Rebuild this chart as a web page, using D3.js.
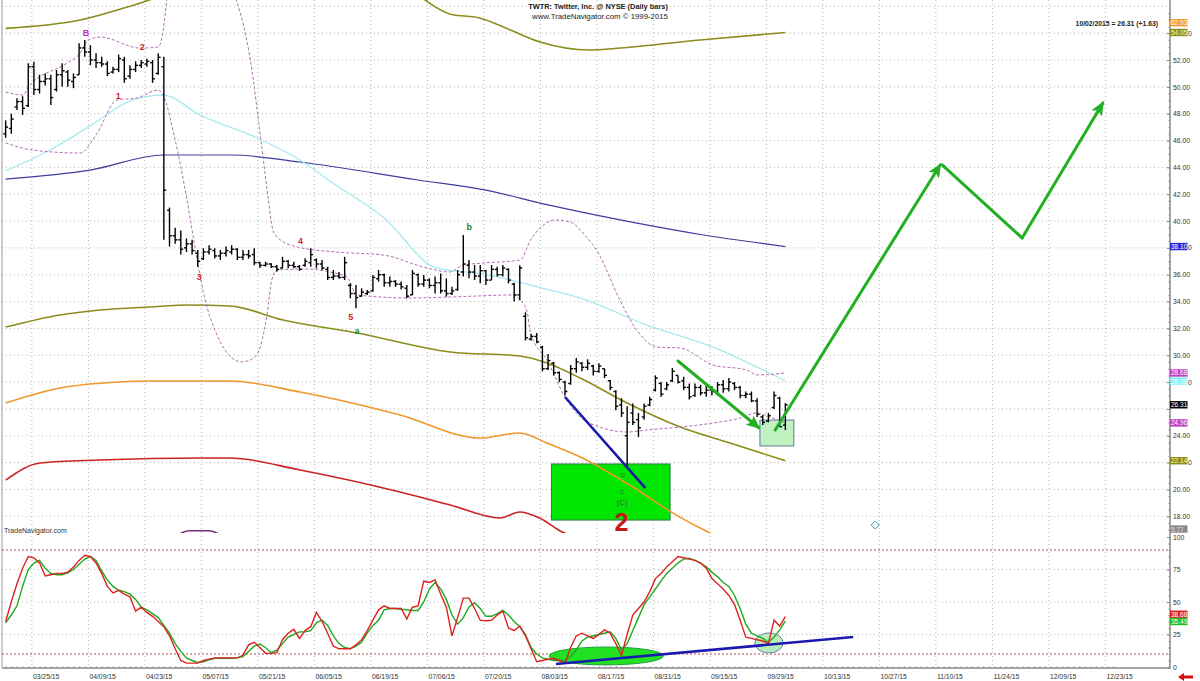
<!DOCTYPE html>
<html><head><meta charset="utf-8">
<script src="https://cdn.jsdelivr.net/npm/d3@7"></script>
<style>body{margin:0;background:#fff}svg{display:block}text{font-family:"Liberation Sans",Arial,sans-serif}</style>
</head><body><svg id="c" width="1200" height="681"></svg>
<script>
// ---------- DATA ----------
const firstBar = -5; // trading-day index of first bar (0 = 03/25/15)
const barHigh = [47.5,48.0,49.15,49.3,51.75,
51.87,50.9,51.0,50.9,51.25,51.75,51.25,51.0,53.24,53.49,
53.1,52.5,52.25,51.9,51.5,52.4,52.25,51.6,51.9,52.0,
52.1,52.0,52.5,52.25,41.0,39.5,39.3,38.7,38.6,37.85,
37.97,38.2,37.97,37.85,38.1,38.2,37.97,37.85,37.85,37.97,
36.97,36.97,36.85,36.72,37.34,37.1,36.97,36.72,37.22,37.97,
37.22,37.1,36.6,36.35,36.2,37.34,35.36,35.24,34.99,34.86,
35.98,36.35,36.1,35.86,35.6,35.5,35.24,36.35,36.1,35.98,
35.73,35.86,36.1,35.73,35.11,36.35,38.96,37.1,36.72,36.72,
36.35,36.72,36.6,36.72,36.47,35.4,36.7,33.2,31.6,31.65,
30.7,30.1,29.5,28.8,28.1,29.27,29.8,29.5,29.7,29.3,
29.4,29.0,28.15,27.4,26.8,26.2,26.4,25.7,26.4,26.9,
28.5,28.0,28.0,29.05,28.5,28.4,27.9,27.9,27.8,27.7,
27.7,28.0,28.15,28.3,28.0,27.7,27.3,27.3,26.8,25.55,
25.7,27.3,26.9,26.44];
const barLow = [46.2,46.5,48.27,47.9,48.5,
49.4,49.5,50.1,48.65,49.65,50.0,50.0,49.9,50.9,52.25,
51.6,51.4,51.5,50.8,51.0,51.1,50.3,50.6,51.1,51.4,
51.5,50.3,50.9,38.6,38.1,38.3,37.5,37.7,37.5,36.6,
37.1,37.5,37.2,37.1,37.35,37.5,37.1,37.1,37.2,36.7,
36.5,36.6,36.5,36.23,36.48,36.48,36.48,36.3,36.6,36.6,
36.48,36.35,35.6,35.6,35.7,35.6,34.24,33.5,34.37,34.49,
34.74,35.48,35.1,35.11,35.1,34.9,34.24,34.49,35.11,35.11,
34.99,34.61,34.6,34.36,34.49,34.8,35.86,35.73,35.61,35.36,
35.24,35.61,35.86,35.86,35.36,34.0,34.1,31.1,31.1,30.9,
28.8,28.9,28.5,28.0,27.0,27.8,28.7,28.8,28.9,28.5,
28.7,28.3,27.4,25.9,25.4,21.6,24.8,23.9,25.2,26.2,
27.3,26.9,27.4,28.0,27.9,27.4,26.7,26.9,27.0,26.9,
27.0,27.0,27.2,27.3,27.4,26.8,26.8,26.5,25.4,24.8,
25.0,26.0,24.68,24.43];
const barOpen = [46.5,46.9,48.5,48.9,48.6,
51.5,49.8,50.4,50.6,49.8,50.9,51.1,50.4,50.9,52.9,
52.6,52.0,51.8,51.7,51.1,51.3,52.0,50.8,51.3,51.6,
51.7,51.8,51.0,51.5,40.8,38.9,38.6,38.0,38.3,37.6,
37.2,37.7,37.8,37.4,37.6,37.7,37.9,37.3,37.5,37.5,
36.9,36.7,36.8,36.6,36.5,37.0,36.7,36.6,36.7,36.9,
37.1,36.8,36.4,35.8,35.9,35.8,35.2,34.6,34.4,34.6,
34.8,35.7,36.0,35.4,35.5,35.3,35.0,34.5,36.0,35.3,
35.6,35.2,35.4,34.8,34.6,34.9,36.2,36.7,36.2,35.9,
36.3,35.6,36.4,36.0,36.4,35.3,34.5,32.9,31.2,31.4,
30.6,29.0,29.4,28.7,28.0,27.9,29.0,29.4,29.1,29.2,
28.8,29.0,28.1,27.3,26.3,24.0,25.7,25.2,25.4,26.3,
27.4,27.9,27.5,28.1,28.5,28.1,27.6,27.0,27.6,27.2,
27.4,27.3,27.8,27.5,27.9,27.6,27.0,27.1,26.6,25.4,
25.1,26.1,26.8,24.8];
const barClose = [47.0,47.6,48.9,48.4,51.5,
49.8,50.4,50.6,49.2,50.9,51.2,50.5,50.7,52.9,52.6,
52.0,51.8,51.7,51.0,51.3,52.1,50.6,51.3,51.6,51.8,
51.9,50.6,52.2,42.3,38.9,38.6,37.9,38.3,37.8,37.0,
37.7,37.9,37.4,37.6,37.8,37.9,37.3,37.5,37.4,36.9,
36.7,36.8,36.6,36.4,37.0,36.7,36.6,36.4,37.0,37.5,
36.8,36.5,35.8,35.9,35.8,36.9,34.6,34.3,34.7,34.7,
35.8,36.0,35.4,35.5,35.3,35.1,34.4,36.1,35.3,35.6,
35.2,35.4,34.8,34.6,34.8,36.0,36.8,36.2,35.9,36.3,
35.6,36.4,36.0,36.5,35.6,34.5,36.5,31.3,31.4,31.0,
29.0,29.6,28.7,28.2,27.3,29.0,29.5,29.1,29.4,28.8,
29.2,28.5,27.6,26.2,25.7,25.0,25.0,24.6,26.2,26.7,
28.3,27.1,27.8,28.8,28.0,27.6,26.9,27.6,27.2,27.4,
27.3,27.8,27.5,28.0,27.6,27.0,27.1,26.6,25.6,25.0,
25.5,27.0,24.68,26.31];
const oscFast = [35,50,64,76,85,
84,80,70,71,72,72,73,77,82,86,
85,80,72,62,57,59,56,54,43,46,
42,39,35,31,24,14,5,3,3,3,
5,6,7,7,7,7,7,9,17,19,
15,10.5,10.5,11,21,26,29,22,28,31,
42,35,26,16,14,14,14,17,21,28,
36,44,47,45,45,45,37,46,47,66,
65,67,56,46,24,38,53,53,45,36,
35.6,36,40,43,30,28,31.5,24,14,4,
5,6,6.7,5,3,15,24,26,24,22,
25,28.5,26,18,9,25,40,45,50,58,
68,72,77,81,85,84,83,82,80,76,
68,64,60,55,48,36,23,22,21,20,
18,36,31.5,38.7];
const oscSlow = [34,40,47,62,75,
80,82,76,72,71,71,72.5,75,79,83,
85,82,74,67,62,59,58,56,52,46,
44,41,38,32,26,18,12,7,5,3.5,
4,5.5,6.7,6.7,6.7,6.7,7,8,12,16,
17.7,15,11,13,18,23,25,27,27,28,
34,36,32,24,18,15,14,16,19,26,
32,36,44,45,45,44.4,44,43.5,43.5,50,
60,65,60,52,40,33,38,46,49.5,45,
39,39,41,43.5,40,35,31,25,15,10,
7,6,5,5,5,8,13,20,23,24,
25,26,27,22,13,18,28,38,48,54,
60,66,72,76,80,83,83.6,82,80,77,
73,69.5,65,62,55,45,33,26,24,22,
19,23,28.5,35.49];

const tickIndex = [0,10,20,30,40,50,60,70,80,90,100,110,120,130,140,150,160,170,180,190];
const tickLabels = ["03/25/15","04/09/15","04/23/15","05/07/15","05/21/15","06/05/15","06/19/15","07/06/15","07/20/15","08/03/15","08/17/15","08/31/15","09/15/15","09/29/15","10/13/15","10/27/15","11/10/15","11/24/15","12/09/15","12/23/15"];
const priceTicks = [18,20,22,24,26,28,30,32,34,36,38,40,42,44,46,48,50,52,54];
const oscTicks = [0,25,50,75,100];

// overlay studies, [bar index, price]
const maLong = [[-5,43.13],[10,43.8],[23,44.92],[35,44.92],[47,44.4],[68,43.06],[80,42.3],[91,41.2],[100,40.4],[118,39.0],[133,38.1]];
const maMid = [[-5,43.73],[2.85,45.29],[9.6,47.0],[17.5,49.02],[22.9,49.39],[29.4,47.9],[39.5,46.19],[47.1,44.55],[52.9,42.83],[61.8,40.3],[71.3,36.5],[79.5,36.05],[91.3,34.86],[96.6,34.27],[108.5,32.25],[120.2,30.61],[133,28.08]];
const envUpper = [[-5,54.36],[8.2,54.98],[17,56.0],[30,57.8],[47,58.7],[65,57.5],[73.6,55.43],[78.9,55.13],[84.3,54.24],[89.6,53.34],[98.4,52.75],[103.8,52.89],[117.9,53.49],[133,54.05]];
const envLower = [[-5,32.1],[4.6,33.0],[11.7,33.37],[20.5,33.6],[27.6,33.74],[34.7,33.67],[44.1,32.63],[57.2,31.66],[73.7,30.24],[86,29.94],[90.8,29.42],[96.7,28.3],[105,26.44],[114.4,24.65],[123.2,23.46],[133,22.14]];
const bandOrange = [[-5,26.44],[4.6,27.56],[15.2,28.01],[20.6,28.08],[34.7,28.08],[47.1,27.26],[64.8,25.55],[79,23.83],[86,24.21],[90.8,23.46],[96.7,22.42],[106,20.18],[113.1,18.24],[119.7,16.75],[126,15.6]];
const bandRed = [[-5,20.7],[1.1,21.97],[11.7,22.19],[29.4,22.34],[34.7,22.34],[47.1,21.45],[64.8,19.81],[73.7,18.84],[82.5,17.87],[86,18.32],[89.5,17.87],[93.5,16.83],[100,16.0]];
const bandPurple = [[25,16.5],[27.5,16.92],[31,16.92],[33.5,16.5]];
const bbUpper = [[-5,49.62],[-1.9,49.39],[-1,49.99],[5.9,51.78],[8.2,52.52],[9.6,53.49],[11.7,53.71],[18.8,52.89],[22,52.97],[22.9,54.24],[23.7,57.2],[29.4,67.6],[35.1,57.2],[35.8,56.47],[38.3,52],[40.4,45.29],[41.5,41.57],[42.3,39.33],[43.2,38.74],[46.6,38.07],[53.6,37.69],[61.8,37.47],[69.6,36.5],[73.6,36.2],[76,36.72],[79.5,36.87],[86.1,37.1],[87.9,38.59],[89.6,39.48],[92.2,40.08],[94.9,39.93],[97.5,38.96],[99.8,37.69],[103.7,34.12],[106.7,31.88],[110.3,30.61],[114.4,30.54],[120.2,29.27],[126.2,28.9],[128,28.53],[133,28.68]];
const bbLower = [[-5,45.82],[-0.2,45.29],[8.2,45.07],[11.2,46.56],[14.7,49.02],[18.2,49.17],[22,49.76],[22.85,49.39],[25,46.04],[27.1,41.57],[28.9,37.1],[30.3,34.12],[32.05,31.88],[34.2,30.17],[36.8,29.5],[39.1,29.87],[40.4,31.14],[41.3,33.15],[42.1,35.61],[43,36.35],[48.3,36.43],[52.4,36.2],[55.4,35.83],[57.2,34.49],[66.6,34.27],[73.7,34.34],[84.8,34.49],[86.1,34.12],[87.3,33.22],[87.9,31.66],[90.8,29.65],[94,26.89],[96.7,25.4],[100.2,24.65],[105,24.28],[108.5,24.43],[114.4,24.65],[120.2,24.95],[125,25.32],[128,25.7],[130.3,25.4],[133,24.96]];

// annotations, [bar index, price] / [bar index, osc value]
const greenBox = [[91.6,21.9],[112.6,17.72]];
const lightBox = [[128.5,25.17],[134.5,23.24]];
const blueLinePrice = [[94,26.89],[108.2,20.11]];
const arrowDown = [[114,29.57],[128.3,24.6]];
const projection = [[131.2,24.43],[160.4,44.18],[174.9,38.74],[189.2,48.8]];
const waveLabels = [
 {t:"B",i:9.22,p:54.01,c:"#c030c0"},{t:"2",i:19.17,p:52.99,c:"#d02828"},{t:"1",i:14.94,p:49.32,c:"#d02828"},
 {t:"3",i:29.27,p:35.81,c:"#d02828"},{t:"4",i:47.2,p:38.51,c:"#d02828"},{t:"5",i:56.1,p:32.87,c:"#d02828"},
 {t:"a",i:57.2,p:31.81,c:"#1a8a1a"},{t:"b",i:77.06,p:39.53,c:"#1a8a1a"}];
const boxLabels = [{t:"c",i:104.2,p:21.08},{t:"c",i:104.1,p:19.88},{t:"(C)",i:104.1,p:19.06}];
const bigLabel = {t:"2",i:104,p:17.6};
const oscEllipse = {i:101.3,v:8.5,ri:10.1,rv:6.9};
const oscCircle = {i:130.1,v:18.5,ri:2.5,rv:7.7};
const oscBlueLine = [[92.4,2.3],[145,23.1]];
const rightLabels = [
 {text:"62.03",at:54.78,bg:"#f39c2e",fg:"#ffffff"},
 {text:"54.05",at:54.05,bg:"#8c8c1c",fg:"#ffffb8"},
 {text:"38.10",at:38.10,bg:"#2b2bd6",fg:"#ffffff"},
 {text:"28.68",at:28.68,bg:"#c13cc1",fg:"#ffffff"},
 {text:"28.08",at:28.08,bg:"#80eef4",fg:"#ffffff"},
 {text:"26.31",at:26.31,bg:"#000000",fg:"#ffffff"},
 {text:"24.96",at:24.96,bg:"#c13cc1",fg:"#ffffff"},
 {text:"22.14",at:22.14,bg:"#8c8c1c",fg:"#ffffb8"},
 {text:"5.77",at:17.05,bg:"#8a8a8a",fg:"#e0e0e0"}];
const oscLabels = [{text:"38.68",at:40.6,bg:"#dd2222",fg:"#ffffff"},{text:"35.49",at:35.0,bg:"#22bb22",fg:"#ffffff"}];

// ---------- CHART ----------
const svg = d3.select("#c");
const axisX = 1170, leftX = 2;
const x = d3.scaleLinear().domain([0,190]).range([33.9,1107.4]);
const yP = d3.scaleLinear().domain([18,52]).range([516.3,60]);
const yO = d3.scaleLinear().domain([0,100]).range([667,537]);
const pTop=0, pBot=533, oTop=537, oBot=668;

svg.append("rect").attr("width",1200).attr("height",681).attr("fill","#fff");
const defs = svg.append("defs");
defs.append("clipPath").attr("id","clipP").append("rect").attr("x",leftX).attr("y",pTop).attr("width",axisX-leftX).attr("height",pBot-pTop);
defs.append("clipPath").attr("id","clipO").append("rect").attr("x",leftX).attr("y",oTop).attr("width",axisX-leftX).attr("height",oBot-oTop);
const mk = defs.append("marker").attr("id","arr").attr("markerUnits","userSpaceOnUse").attr("markerWidth",14).attr("markerHeight",12)
  .attr("viewBox","0 0 14 12").attr("refX",12).attr("refY",6).attr("orient","auto");
mk.append("path").attr("d","M0,0 L14,6 L0,12 L3,6 z").attr("fill","#22b022");

// grid
const grid = svg.append("g");
tickIndex.forEach(t=>{
  grid.append("line").attr("x1",x(t)-2).attr("x2",x(t)-2).attr("y1",0).attr("y2",oBot)
    .attr("stroke","#b4b4b4").attr("stroke-dasharray","1,3");
});
d3.range(18,57,2).forEach(p=>{
  const yy=yP(p); if(yy<pTop||yy>pBot) return;
  grid.append("line").attr("x1",leftX).attr("x2",axisX).attr("y1",yy).attr("y2",yy).attr("stroke","#b4b4b4").attr("stroke-dasharray","1,3");
});
[25,50,75].forEach(v=>grid.append("line").attr("x1",leftX).attr("x2",axisX).attr("y1",yO(v)).attr("y2",yO(v)).attr("stroke","#b4b4b4").attr("stroke-dasharray","1,3"));
[90,10].forEach(v=>grid.append("line").attr("x1",leftX).attr("x2",axisX).attr("y1",yO(v)).attr("y2",yO(v)).attr("stroke","#b04848").attr("stroke-dasharray","2,2"));

// price panel
const gp = svg.append("g").attr("clip-path","url(#clipP)");
const pline = d3.line().x(d=>x(d[0])).y(d=>yP(d[1])).curve(d3.curveMonotoneX);
gp.append("rect").attr("x",x(greenBox[0][0])).attr("y",yP(greenBox[0][1])).attr("width",x(greenBox[1][0])-x(greenBox[0][0])).attr("height",yP(greenBox[1][1])-yP(greenBox[0][1]))
  .attr("fill","#00e600").attr("stroke","#2e7a4a").attr("stroke-width",1);
gp.append("rect").attr("x",x(lightBox[0][0])).attr("y",yP(lightBox[0][1])).attr("width",x(lightBox[1][0])-x(lightBox[0][0])).attr("height",yP(lightBox[1][1])-yP(lightBox[0][1]))
  .attr("fill","#bff2bf").attr("stroke","#5a7a9a").attr("stroke-width",1);

const lines = [
 [envUpper,"#8c8c1c",1.6,null],[envLower,"#8c8c1c",1.6,null],[bandOrange,"#f0962a",1.6,null],[bandRed,"#cc2222",1.6,null],
 [bandPurple,"#7a2a7a",1.6,null],[maLong,"#3d3d9e",1.2,null],[maMid,"#a4eaf0",1.3,null],
 [bbUpper,"#b070b0",1,"3,2"],[bbLower,"#b070b0",1,"3,2"]];
lines.forEach(([d,c,w,da])=>{
  const p=gp.append("path").attr("d",pline(d)).attr("fill","none").attr("stroke",c).attr("stroke-width",w);
  if(da) p.attr("stroke-dasharray",da);
});

// OHLC bars
const bars = barHigh.map((h,k)=>({i:firstBar+k,h:h,l:barLow[k],o:barOpen[k],c:barClose[k]}));
const gb = gp.append("g").attr("stroke","#000").attr("stroke-width",1.4);
gb.selectAll("g").data(bars).join("g").each(function(d){
  const g=d3.select(this), cx=x(d.i);
  g.append("line").attr("x1",cx).attr("x2",cx).attr("y1",yP(d.h)).attr("y2",yP(d.l));
  g.append("line").attr("x1",cx-2.4).attr("x2",cx).attr("y1",yP(d.o)).attr("y2",yP(d.o));
  g.append("line").attr("x1",cx).attr("x2",cx+2.4).attr("y1",yP(d.c)).attr("y2",yP(d.c));
});

// annotations in price panel
gp.append("line").attr("x1",x(blueLinePrice[0][0])).attr("y1",yP(blueLinePrice[0][1])).attr("x2",x(blueLinePrice[1][0])).attr("y2",yP(blueLinePrice[1][1]))
  .attr("stroke","#1a1aa8").attr("stroke-width",2.6);
const ga = svg.append("g").attr("fill","none").attr("stroke","#22b022").attr("stroke-width",3).attr("stroke-linecap","round");
ga.append("line").attr("x1",x(arrowDown[0][0])).attr("y1",yP(arrowDown[0][1])).attr("x2",x(arrowDown[1][0])).attr("y2",yP(arrowDown[1][1])).attr("marker-end","url(#arr)");
ga.append("line").attr("x1",x(projection[0][0])).attr("y1",yP(projection[0][1])).attr("x2",x(projection[1][0])).attr("y2",yP(projection[1][1])).attr("marker-end","url(#arr)");
ga.append("line").attr("x1",x(projection[1][0])+2).attr("y1",yP(projection[1][1])).attr("x2",x(projection[2][0])).attr("y2",yP(projection[2][1]));
ga.append("line").attr("x1",x(projection[2][0])).attr("y1",yP(projection[2][1])).attr("x2",x(projection[3][0])).attr("y2",yP(projection[3][1])).attr("marker-end","url(#arr)");

waveLabels.forEach(w=>svg.append("text").attr("x",x(w.i)).attr("y",yP(w.p)).attr("text-anchor","middle").attr("dominant-baseline","central")
  .attr("font-family","'Liberation Serif',serif").attr("font-weight","bold").attr("font-size",9).attr("fill",w.c).text(w.t));
boxLabels.forEach(w=>svg.append("text").attr("x",x(w.i)).attr("y",yP(w.p)).attr("text-anchor","middle").attr("dominant-baseline","central")
  .attr("font-family","'Liberation Serif',serif").attr("font-size",8).attr("fill","#2f6f2f").text(w.t));
svg.append("text").attr("x",x(bigLabel.i)).attr("y",yP(bigLabel.p)).attr("text-anchor","middle").attr("dominant-baseline","central")
  .attr("font-weight","bold").attr("font-size",25).attr("fill","#c41818").text(bigLabel.t);

// small marker
svg.append("path").attr("transform",`translate(${x(148.9)},${yP(17.35)})`).attr("d","M0,-4 L4,0 L0,4 L-4,0 Z").attr("fill","none").attr("stroke","#3aa0a0").attr("stroke-width",1);

// oscillator panel
const go = svg.append("g").attr("clip-path","url(#clipO)");
go.append("ellipse").attr("cx",x(oscEllipse.i)).attr("cy",yO(oscEllipse.v)).attr("rx",x(oscEllipse.ri)-x(0)).attr("ry",yO(0)-yO(oscEllipse.rv))
  .attr("fill","#22e022").attr("stroke","#1f9f3f").attr("stroke-width",1);
go.append("ellipse").attr("cx",x(oscCircle.i)).attr("cy",yO(oscCircle.v)).attr("rx",x(oscCircle.ri)-x(0)).attr("ry",yO(0)-yO(oscCircle.rv))
  .attr("fill","#b8ecb8").attr("stroke","#6a8ac0").attr("stroke-width",1);
const oline = d3.line().x((d,k)=>x(firstBar+k)).y(d=>yO(d));
go.append("path").attr("d",oline(oscSlow)).attr("fill","none").attr("stroke","#22a822").attr("stroke-width",1.4);
go.append("path").attr("d",oline(oscFast)).attr("fill","none").attr("stroke","#dd2222").attr("stroke-width",1.4);
go.append("line").attr("x1",x(oscBlueLine[0][0])).attr("y1",yO(oscBlueLine[0][1])).attr("x2",x(oscBlueLine[1][0])).attr("y2",yO(oscBlueLine[1][1]))
  .attr("stroke","#1a1ab0").attr("stroke-width",2.6);

// frame
svg.append("line").attr("x1",leftX).attr("x2",leftX).attr("y1",0).attr("y2",oBot).attr("stroke","#999");
svg.append("line").attr("x1",leftX).attr("x2",axisX).attr("y1",oBot).attr("y2",oBot).attr("stroke","#888").attr("stroke-width",1.5);
svg.append("line").attr("x1",axisX).attr("x2",axisX).attr("y1",0).attr("y2",oBot+1).attr("stroke","#888").attr("stroke-width",1.5);

// value-label boxes at right (positions used to keep axis labels clear)
const boxYs = rightLabels.map(l=>yP(l.at));
const covered = v => boxYs.some(b=>Math.abs(b-yP(v))<6.5);

// axes
function styleAxis(g){ g.select(".domain").remove(); g.selectAll("text").attr("font-family","'Liberation Sans',Arial,sans-serif").attr("font-size",6.8).attr("fill","#333"); g.selectAll("line").attr("stroke","#888"); }
svg.append("g").attr("transform",`translate(${axisX},0)`).call(d3.axisRight(yP).tickValues(d3.range(17,56,0.5).filter(v=>yP(v)>=pTop&&yP(v)<=pBot)).tickSize(-1.5).tickFormat("")).call(styleAxis);
svg.append("g").attr("transform",`translate(${axisX},0)`).call(d3.axisRight(yP).tickValues(priceTicks).tickSize(-3).tickPadding(3)
  .tickFormat(v=>covered(v)?"":d3.format(".2f")(v))).call(styleAxis);
// visible tail digit of the axis labels hidden behind value boxes
svg.append("g").selectAll("text").data(priceTicks.filter(v=>covered(v)&&v!==26)).join("text")
  .attr("x",axisX+18).attr("y",d=>yP(d)).attr("dominant-baseline","central").attr("font-size",6.8).attr("fill","#333").text("0");
svg.append("g").attr("transform",`translate(${axisX},0)`).call(d3.axisRight(yO).tickValues(d3.range(0,101,5)).tickSize(-1.5).tickFormat("")).call(styleAxis);
svg.append("g").attr("transform",`translate(${axisX},0)`).call(d3.axisRight(yO).tickValues(oscTicks).tickSize(-3).tickPadding(3)).call(styleAxis);
const xa = svg.append("g").attr("transform",`translate(0,${oBot})`).call(d3.axisBottom(x).tickValues(tickIndex).tickSize(0).tickPadding(6).tickFormat((d,k)=>tickLabels[k])).call(styleAxis);
xa.selectAll("text").attr("text-anchor","start").attr("x",-1.5);
svg.append("g").attr("transform",`translate(0,${oBot})`).call(d3.axisBottom(x).tickValues(d3.range(-5,192,1)).tickSize(-1.5).tickFormat("")).call(styleAxis);

// right value labels
function valueLabel(l,scale){
  const yy=scale(l.at);
  svg.append("rect").attr("x",axisX).attr("y",yy-3.7).attr("width",17.5).attr("height",7.4).attr("fill",l.bg);
  svg.append("text").attr("x",axisX+1).attr("y",yy).attr("dominant-baseline","central").attr("font-size",6.5).attr("fill",l.fg).text(l.text);
}
rightLabels.forEach(l=>valueLabel(l,yP));
oscLabels.forEach(l=>valueLabel(l,yO));

// texts
svg.append("text").attr("x",598).attr("y",9).attr("text-anchor","middle").attr("font-size",7.4).attr("font-weight","bold").attr("fill","#222").text("TWTR:  Twitter, Inc. @ NYSE  (Daily bars)");
svg.append("text").attr("x",600).attr("y",18.5).attr("text-anchor","middle").attr("font-size",7.8).attr("fill","#222").text("www.TradeNavigator.com © 1999-2015");
svg.append("text").attr("x",1158).attr("y",26).attr("text-anchor","end").attr("font-size",6.8).attr("font-weight","bold").attr("fill","#222").text("10/02/2015 = 26.31 (+1.63)");
svg.append("text").attr("x",4).attr("y",533).attr("font-size",7).attr("fill","#333").text("TradeNavigator.com");
svg.append("path").attr("d","M1178,677 L1184,673 L1184,675.5 L1193,675.5 L1193,678.5 L1184,678.5 L1184,681 Z").attr("fill","#d01010");
</script></body></html>
